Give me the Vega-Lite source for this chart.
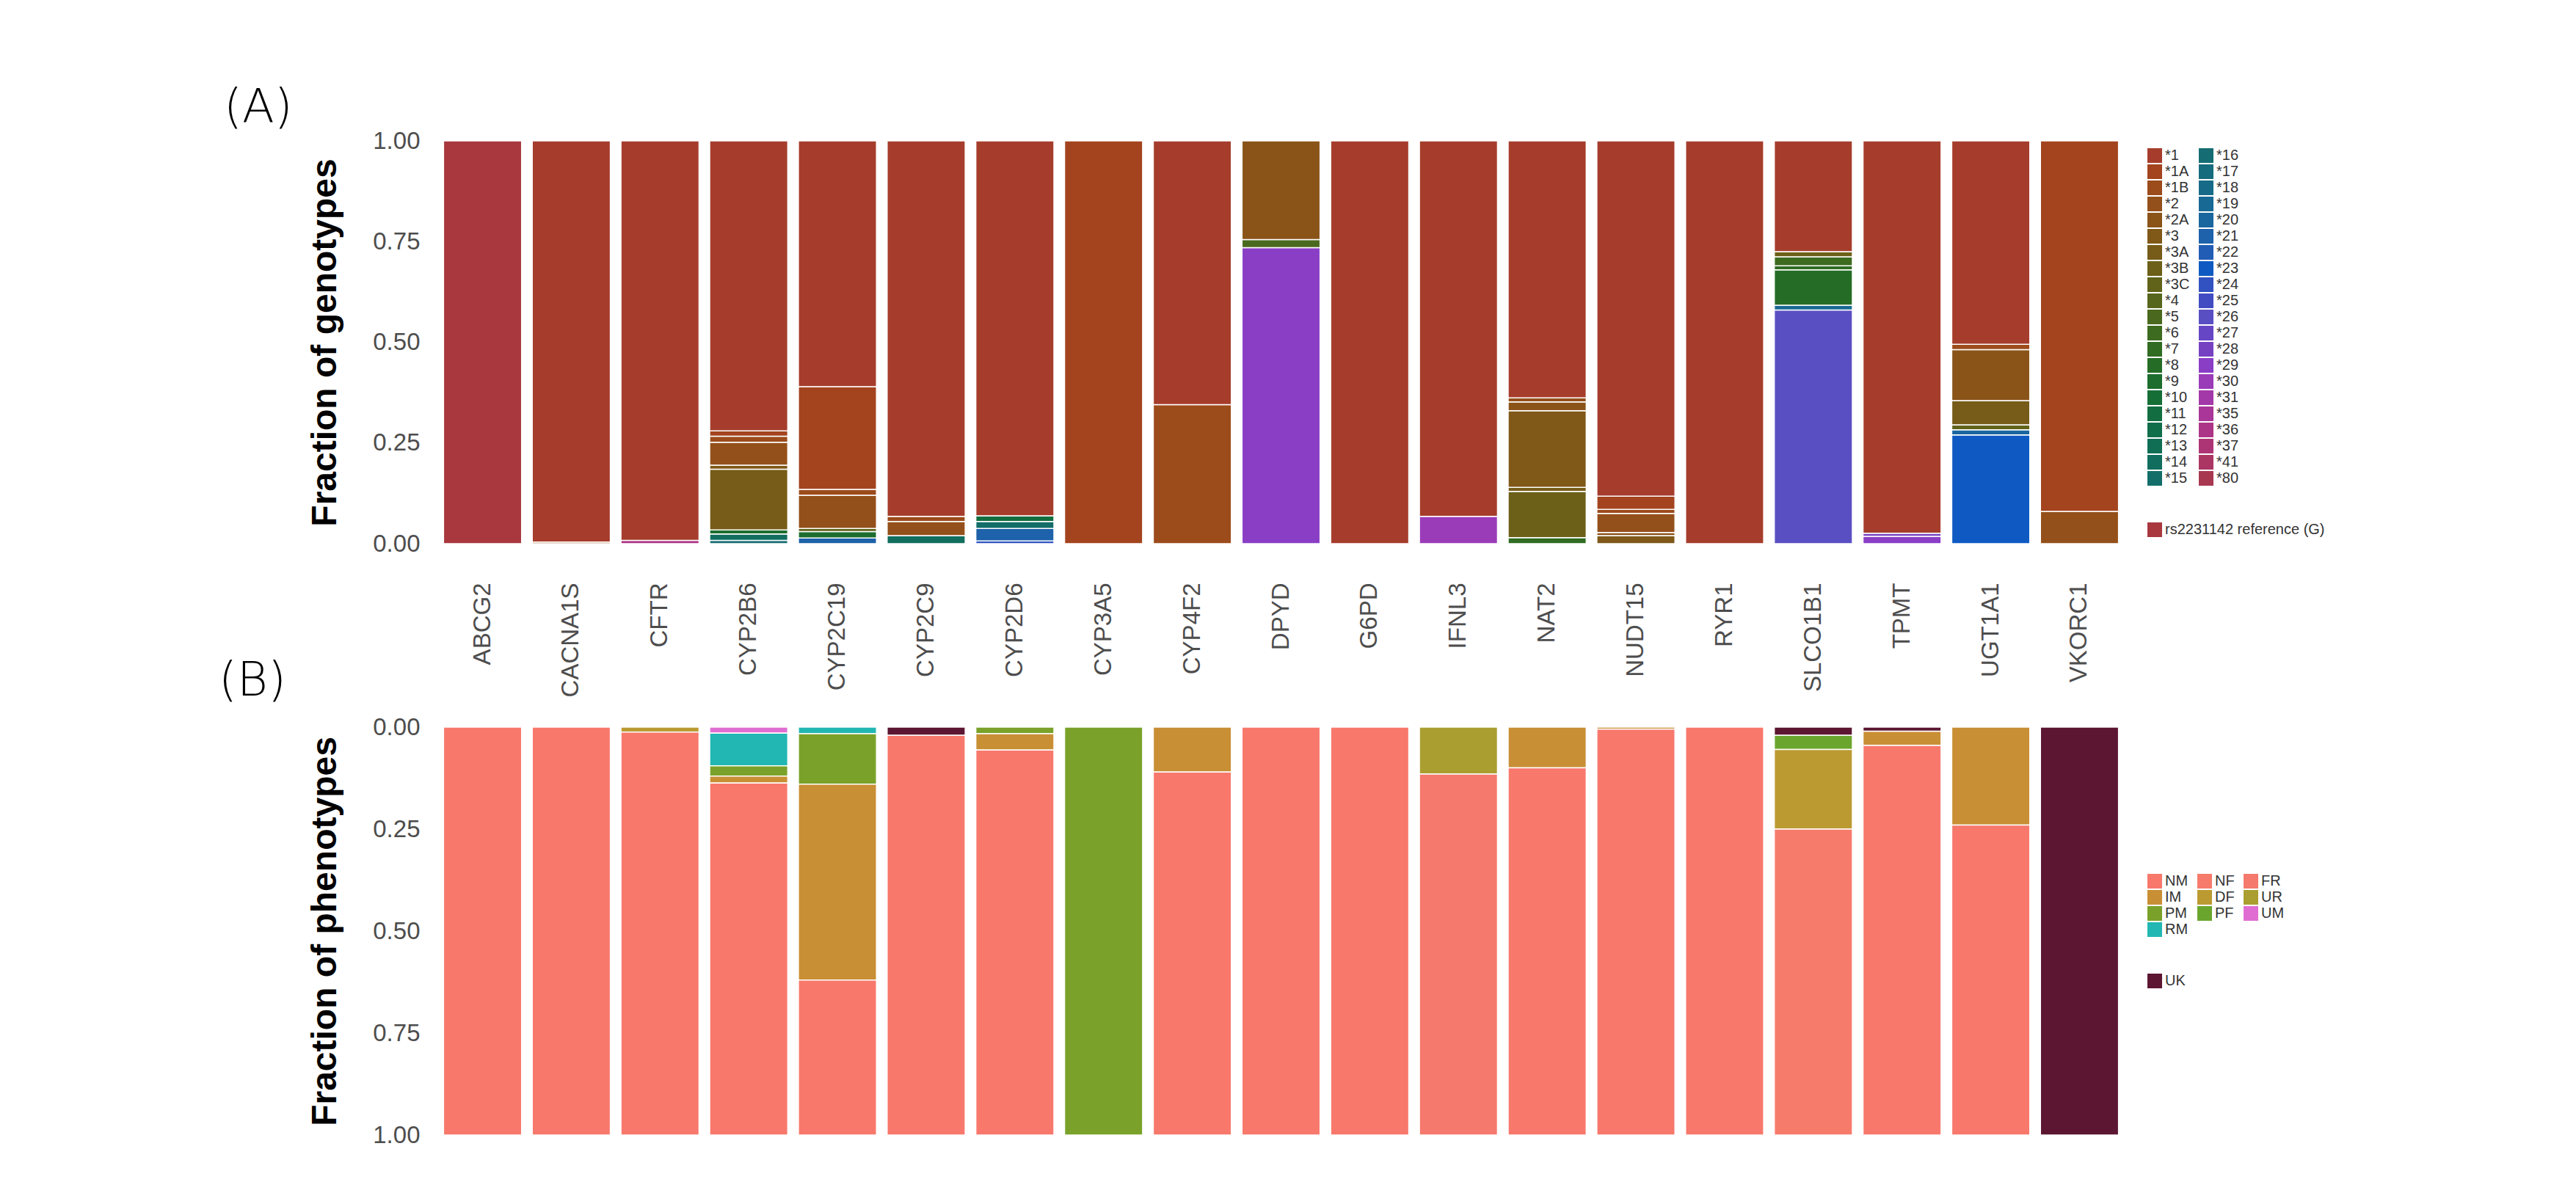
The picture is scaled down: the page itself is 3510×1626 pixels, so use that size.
{
  "$schema": "https://vega.github.io/schema/vega-lite/v6.json",
  "background": "white",
  "padding": {"left": 298, "top": 116, "right": 10, "bottom": 10},
  "autosize": {"type": "pad"},
  "datasets": {
    "geno": [
      {"gene": "ABCG2", "allele": "rs2231142 reference (G)", "frac": 1.0, "level": 99},
      {"gene": "CACNA1S", "allele": "*2", "frac": 0.004, "level": 3},
      {"gene": "CACNA1S", "allele": "*1", "frac": 0.996, "level": 0},
      {"gene": "CFTR", "allele": "*36", "frac": 0.008, "level": 38},
      {"gene": "CFTR", "allele": "*1", "frac": 0.992, "level": 0},
      {"gene": "CYP2B6", "allele": "*16", "frac": 0.008, "level": 21},
      {"gene": "CYP2B6", "allele": "*14", "frac": 0.016, "level": 19},
      {"gene": "CYP2B6", "allele": "*9", "frac": 0.010, "level": 14},
      {"gene": "CYP2B6", "allele": "*3A", "frac": 0.151, "level": 6},
      {"gene": "CYP2B6", "allele": "*3", "frac": 0.010, "level": 5},
      {"gene": "CYP2B6", "allele": "*2", "frac": 0.057, "level": 3},
      {"gene": "CYP2B6", "allele": "*1B", "frac": 0.015, "level": 2},
      {"gene": "CYP2B6", "allele": "*1A", "frac": 0.013, "level": 1},
      {"gene": "CYP2B6", "allele": "*1", "frac": 0.72, "level": 0},
      {"gene": "CYP2C19", "allele": "*21", "frac": 0.014, "level": 26},
      {"gene": "CYP2C19", "allele": "*9", "frac": 0.016, "level": 14},
      {"gene": "CYP2C19", "allele": "*3C", "frac": 0.008, "level": 8},
      {"gene": "CYP2C19", "allele": "*2", "frac": 0.082, "level": 3},
      {"gene": "CYP2C19", "allele": "*1B", "frac": 0.015, "level": 2},
      {"gene": "CYP2C19", "allele": "*1A", "frac": 0.255, "level": 1},
      {"gene": "CYP2C19", "allele": "*1", "frac": 0.61, "level": 0},
      {"gene": "CYP2C9", "allele": "*14", "frac": 0.02, "level": 19},
      {"gene": "CYP2C9", "allele": "*2", "frac": 0.035, "level": 3},
      {"gene": "CYP2C9", "allele": "*1B", "frac": 0.013, "level": 2},
      {"gene": "CYP2C9", "allele": "*1", "frac": 0.932, "level": 0},
      {"gene": "CYP2D6", "allele": "*24", "frac": 0.007, "level": 29},
      {"gene": "CYP2D6", "allele": "*21", "frac": 0.031, "level": 26},
      {"gene": "CYP2D6", "allele": "*15", "frac": 0.017, "level": 20},
      {"gene": "CYP2D6", "allele": "*11", "frac": 0.014, "level": 16},
      {"gene": "CYP2D6", "allele": "*1", "frac": 0.931, "level": 0},
      {"gene": "CYP3A5", "allele": "*1A", "frac": 1.0, "level": 1},
      {"gene": "CYP4F2", "allele": "*1B", "frac": 0.345, "level": 2},
      {"gene": "CYP4F2", "allele": "*1", "frac": 0.655, "level": 0},
      {"gene": "DPYD", "allele": "*29", "frac": 0.735, "level": 34},
      {"gene": "DPYD", "allele": "*5", "frac": 0.02, "level": 10},
      {"gene": "DPYD", "allele": "*2A", "frac": 0.245, "level": 4},
      {"gene": "G6PD", "allele": "*1", "frac": 1.0, "level": 0},
      {"gene": "IFNL3", "allele": "*30", "frac": 0.068, "level": 35},
      {"gene": "IFNL3", "allele": "*1", "frac": 0.932, "level": 0},
      {"gene": "NAT2", "allele": "*7", "frac": 0.015, "level": 12},
      {"gene": "NAT2", "allele": "*3B", "frac": 0.115, "level": 7},
      {"gene": "NAT2", "allele": "*3A", "frac": 0.01, "level": 6},
      {"gene": "NAT2", "allele": "*3", "frac": 0.19, "level": 5},
      {"gene": "NAT2", "allele": "*2A", "frac": 0.022, "level": 4},
      {"gene": "NAT2", "allele": "*2", "frac": 0.01, "level": 3},
      {"gene": "NAT2", "allele": "*1", "frac": 0.638, "level": 0},
      {"gene": "NUDT15", "allele": "*3", "frac": 0.02, "level": 5},
      {"gene": "NUDT15", "allele": "*2A", "frac": 0.008, "level": 4},
      {"gene": "NUDT15", "allele": "*2", "frac": 0.047, "level": 3},
      {"gene": "NUDT15", "allele": "*1B", "frac": 0.01, "level": 2},
      {"gene": "NUDT15", "allele": "*1A", "frac": 0.033, "level": 1},
      {"gene": "NUDT15", "allele": "*1", "frac": 0.882, "level": 0},
      {"gene": "RYR1", "allele": "*1", "frac": 1.0, "level": 0},
      {"gene": "SLCO1B1", "allele": "*26", "frac": 0.58, "level": 31},
      {"gene": "SLCO1B1", "allele": "*19", "frac": 0.012, "level": 24},
      {"gene": "SLCO1B1", "allele": "*8", "frac": 0.088, "level": 13},
      {"gene": "SLCO1B1", "allele": "*7", "frac": 0.01, "level": 12},
      {"gene": "SLCO1B1", "allele": "*6", "frac": 0.022, "level": 11},
      {"gene": "SLCO1B1", "allele": "*3B", "frac": 0.013, "level": 7},
      {"gene": "SLCO1B1", "allele": "*1", "frac": 0.275, "level": 0},
      {"gene": "TPMT", "allele": "*29", "frac": 0.018, "level": 34},
      {"gene": "TPMT", "allele": "*28", "frac": 0.008, "level": 33},
      {"gene": "TPMT", "allele": "*1", "frac": 0.974, "level": 0},
      {"gene": "UGT1A1", "allele": "*23", "frac": 0.27, "level": 28},
      {"gene": "UGT1A1", "allele": "*20", "frac": 0.013, "level": 25},
      {"gene": "UGT1A1", "allele": "*3C", "frac": 0.012, "level": 8},
      {"gene": "UGT1A1", "allele": "*3A", "frac": 0.06, "level": 6},
      {"gene": "UGT1A1", "allele": "*2A", "frac": 0.127, "level": 4},
      {"gene": "UGT1A1", "allele": "*1B", "frac": 0.013, "level": 2},
      {"gene": "UGT1A1", "allele": "*1", "frac": 0.505, "level": 0},
      {"gene": "VKORC1", "allele": "*2", "frac": 0.08, "level": 3},
      {"gene": "VKORC1", "allele": "*1A", "frac": 0.92, "level": 1}
    ],
    "pheno": [
      {"gene": "ABCG2", "phenotype": "NM", "frac": 1.0, "level": 0},
      {"gene": "CACNA1S", "phenotype": "NM", "frac": 1.0, "level": 0},
      {"gene": "CFTR", "phenotype": "DF", "frac": 0.012, "level": 4},
      {"gene": "CFTR", "phenotype": "NM", "frac": 0.988, "level": 0},
      {"gene": "CYP2B6", "phenotype": "UM", "frac": 0.015, "level": 9},
      {"gene": "CYP2B6", "phenotype": "RM", "frac": 0.08, "level": 8},
      {"gene": "CYP2B6", "phenotype": "PM", "frac": 0.025, "level": 6},
      {"gene": "CYP2B6", "phenotype": "IM", "frac": 0.017, "level": 3},
      {"gene": "CYP2B6", "phenotype": "NM", "frac": 0.863, "level": 0},
      {"gene": "CYP2C19", "phenotype": "RM", "frac": 0.016, "level": 8},
      {"gene": "CYP2C19", "phenotype": "PM", "frac": 0.124, "level": 6},
      {"gene": "CYP2C19", "phenotype": "IM", "frac": 0.48, "level": 3},
      {"gene": "CYP2C19", "phenotype": "NM", "frac": 0.38, "level": 0},
      {"gene": "CYP2C9", "phenotype": "UK", "frac": 0.02, "level": 10},
      {"gene": "CYP2C9", "phenotype": "NM", "frac": 0.98, "level": 0},
      {"gene": "CYP2D6", "phenotype": "PM", "frac": 0.016, "level": 6},
      {"gene": "CYP2D6", "phenotype": "IM", "frac": 0.04, "level": 3},
      {"gene": "CYP2D6", "phenotype": "NM", "frac": 0.944, "level": 0},
      {"gene": "CYP3A5", "phenotype": "PM", "frac": 1.0, "level": 6},
      {"gene": "CYP4F2", "phenotype": "IM", "frac": 0.11, "level": 3},
      {"gene": "CYP4F2", "phenotype": "NM", "frac": 0.89, "level": 0},
      {"gene": "DPYD", "phenotype": "NM", "frac": 1.0, "level": 0},
      {"gene": "G6PD", "phenotype": "NM", "frac": 1.0, "level": 0},
      {"gene": "IFNL3", "phenotype": "UR", "frac": 0.115, "level": 5},
      {"gene": "IFNL3", "phenotype": "FR", "frac": 0.885, "level": 2},
      {"gene": "NAT2", "phenotype": "IM", "frac": 0.10, "level": 3},
      {"gene": "NAT2", "phenotype": "NM", "frac": 0.90, "level": 0},
      {"gene": "NUDT15", "phenotype": "IM", "frac": 0.005, "level": 3},
      {"gene": "NUDT15", "phenotype": "NM", "frac": 0.995, "level": 0},
      {"gene": "RYR1", "phenotype": "NM", "frac": 1.0, "level": 0},
      {"gene": "SLCO1B1", "phenotype": "UK", "frac": 0.02, "level": 10},
      {"gene": "SLCO1B1", "phenotype": "PF", "frac": 0.035, "level": 7},
      {"gene": "SLCO1B1", "phenotype": "DF", "frac": 0.195, "level": 4},
      {"gene": "SLCO1B1", "phenotype": "NF", "frac": 0.75, "level": 1},
      {"gene": "TPMT", "phenotype": "UK", "frac": 0.01, "level": 10},
      {"gene": "TPMT", "phenotype": "IM", "frac": 0.035, "level": 3},
      {"gene": "TPMT", "phenotype": "NM", "frac": 0.955, "level": 0},
      {"gene": "UGT1A1", "phenotype": "IM", "frac": 0.24, "level": 3},
      {"gene": "UGT1A1", "phenotype": "NM", "frac": 0.76, "level": 0},
      {"gene": "VKORC1", "phenotype": "UK", "frac": 1.0, "level": 10}
    ]
  },
  "vconcat": [
    {
      "title": {"text": "(A)", "anchor": "start", "frame": "group", "dx": -280, "fontSize": 64, "font": "DejaVu Sans", "fontWeight": 200, "color": "black", "baseline": "bottom", "offset": -68},
      "width": 2321,
      "height": 549,
      "data": {"name": "geno"},
      "layer": [
        {
          "transform": [{"filter": "datum.allele !== 'rs2231142 reference (G)'"}],
          "mark": {"type": "bar", "stroke": "white", "strokeWidth": 1.5},
          "encoding": {
            "x": {"field": "gene", "type": "nominal", "sort": ["ABCG2", "CACNA1S", "CFTR", "CYP2B6", "CYP2C19", "CYP2C9", "CYP2D6", "CYP3A5", "CYP4F2", "DPYD", "G6PD", "IFNL3", "NAT2", "NUDT15", "RYR1", "SLCO1B1", "TPMT", "UGT1A1", "VKORC1"],
              "scale": {"paddingInner": 0.12, "paddingOuter": 0.16},
              "axis": {"title": null, "labelAngle": -90, "labelAlign": "right", "labelBaseline": "middle", "labelPadding": 53, "labelFontSize": 33, "labelColor": "#4d4d4d"}},
            "y": {"field": "frac", "type": "quantitative", "stack": true, "scale": {"domain": [0, 1], "nice": false},
              "axis": {"title": "Fraction of genotypes", "values": [0, 0.25, 0.5, 0.75, 1], "format": ".2f"}},
            "color": {"field": "allele", "type": "nominal",
              "scale": {
                "domain": ["*1", "*1A", "*1B", "*2", "*2A", "*3", "*3A", "*3B", "*3C", "*4", "*5", "*6", "*7", "*8", "*9", "*10", "*11", "*12", "*13", "*14", "*15", "*16", "*17", "*18", "*19", "*20", "*21", "*22", "*23", "*24", "*25", "*26", "*27", "*28", "*29", "*30", "*31", "*35", "*36", "*37", "*41", "*80"],
                "range": ["#a63d2c", "#a3441f", "#9c4b1b", "#94501a", "#8a5419", "#805818", "#765c18", "#6c6018", "#61631a", "#56661c", "#4a691e", "#3d6b20", "#306c22", "#256d26", "#1c6d2e", "#166e37", "#126e41", "#106e4b", "#106e55", "#116e5f", "#136e69", "#156d73", "#166c7d", "#176b88", "#186993", "#1a669e", "#1d62aa", "#225db5", "#0f5ac2", "#3152c0", "#414cc2", "#5a4fc2", "#6646c4", "#7742c2", "#8a3ec6", "#9a3cb8", "#a339a8", "#a93698", "#ad3587", "#ae3575", "#ac3663", "#a83850"]
              },
              "legend": {"title": null, "columns": 2, "symbolLimit": 100}},
            "order": {"field": "level", "type": "quantitative", "sort": "descending"}
          }
        },
        {
          "transform": [{"filter": "datum.allele === 'rs2231142 reference (G)'"}],
          "mark": {"type": "bar", "stroke": "white", "strokeWidth": 1.5},
          "encoding": {
            "x": {"field": "gene", "type": "nominal", "sort": ["ABCG2", "CACNA1S", "CFTR", "CYP2B6", "CYP2C19", "CYP2C9", "CYP2D6", "CYP3A5", "CYP4F2", "DPYD", "G6PD", "IFNL3", "NAT2", "NUDT15", "RYR1", "SLCO1B1", "TPMT", "UGT1A1", "VKORC1"]},
            "y": {"field": "frac", "type": "quantitative", "stack": true},
            "fill": {"field": "allele", "type": "nominal", "scale": {"range": ["#a8383e"]}, "legend": {"title": null}}
          }
        }
      ]
    },
    {
      "title": {"text": "(B)", "anchor": "start", "frame": "group", "dx": -287, "fontSize": 64, "font": "DejaVu Sans", "fontWeight": 200, "color": "black", "baseline": "bottom", "offset": -50},
      "width": 2321,
      "height": 556,
      "data": {"name": "pheno"},
      "layer": [
        {
          "mark": {"type": "bar", "stroke": "white", "strokeWidth": 1.5},
          "encoding": {
            "x": {"field": "gene", "type": "nominal", "sort": ["ABCG2", "CACNA1S", "CFTR", "CYP2B6", "CYP2C19", "CYP2C9", "CYP2D6", "CYP3A5", "CYP4F2", "DPYD", "G6PD", "IFNL3", "NAT2", "NUDT15", "RYR1", "SLCO1B1", "TPMT", "UGT1A1", "VKORC1"],
              "scale": {"paddingInner": 0.12, "paddingOuter": 0.16},
              "axis": null},
            "y": {"field": "frac", "type": "quantitative", "stack": true, "scale": {"domain": [0, 1], "nice": false, "reverse": true},
              "axis": {"title": "Fraction of phenotypes", "values": [0, 0.25, 0.5, 0.75, 1], "format": ".2f"}},
            "color": {"field": "phenotype", "type": "nominal",
              "scale": {
                "domain": ["NM", "IM", "PM", "UM", "NF", "DF", "PF", "RM", "FR", "UR", "UK"],
                "range": ["#f8786c", "#c98f35", "#7aa22a", "#e06ed2", "#f77b6b", "#bb9a32", "#6aa62e", "#22b7b2", "#f5796d", "#aa9e30", "#5c1632"]
              },
              "legend": {"title": null, "columns": 3, "values": ["NM", "IM", "PM", "UM", "NF", "DF", "PF", "RM", "FR", "UR"]}},
            "order": {"field": "level", "type": "quantitative", "sort": "descending"}
          }
        },
        {
          "transform": [{"filter": "datum.phenotype === 'UK'"}],
          "mark": {"type": "bar", "stroke": "white", "strokeWidth": 1.5},
          "encoding": {
            "x": {"field": "gene", "type": "nominal", "sort": ["ABCG2", "CACNA1S", "CFTR", "CYP2B6", "CYP2C19", "CYP2C9", "CYP2D6", "CYP3A5", "CYP4F2", "DPYD", "G6PD", "IFNL3", "NAT2", "NUDT15", "RYR1", "SLCO1B1", "TPMT", "UGT1A1", "VKORC1"]},
            "y": {"field": "frac", "type": "quantitative", "stack": true},
            "fill": {"field": "phenotype", "type": "nominal", "scale": {"range": ["#5c1632"]}, "legend": {"title": null}}
          }
        }
      ]
    }
  ],
  "spacing": 250,
  "bounds": "flush",
  "resolve": {"scale": {"color": "independent", "fill": "independent"}},
  "config": {
    "view": {"stroke": null},
    "axis": {"grid": false, "domain": false, "ticks": false, "labelFont": "Liberation Sans", "titleFont": "Liberation Sans", "labelFontSize": 33, "labelColor": "#4d4d4d", "titleFontSize": 48, "titleFontWeight": "bold", "titleColor": "black"},
    "axisY": {"labelPadding": 13, "titlePadding": 40},
    "legend": {
      "labelFont": "Liberation Sans", "labelFontSize": 20, "labelColor": "#333333", "labelLimit": 400,
      "symbolType": "square", "symbolSize": 400, "symbolStrokeWidth": 0, "symbolOpacity": 1,
      "rowPadding": 2, "columnPadding": 12, "labelOffset": 4, "offset": 20, "padding": 0,
      "layout": {"right": {"anchor": "middle", "direction": "vertical", "margin": 50, "center": false}}
    }
  }
}
